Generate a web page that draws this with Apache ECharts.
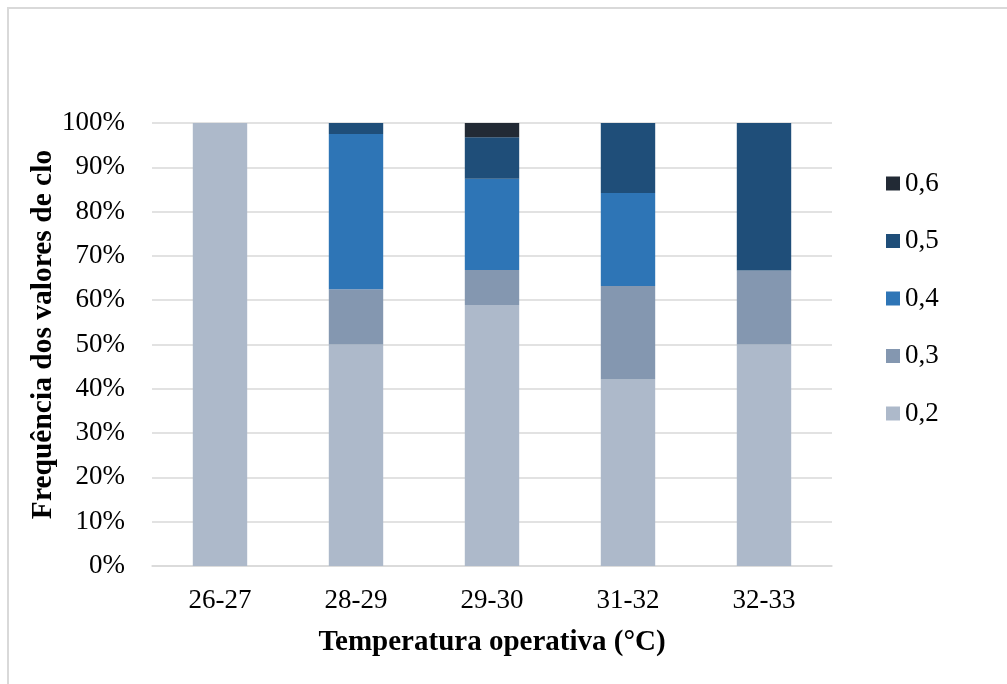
<!DOCTYPE html>
<html>
<head>
<meta charset="utf-8">
<script src="https://cdn.jsdelivr.net/npm/echarts@6/dist/echarts.min.js"></script>
<style>html,body{margin:0;padding:0;background:#fff}#c{width:1007px;height:684px}</style>
</head>
<body>
<div id="c"></div>
<script>
var categories = ['26-27', '28-29', '29-30', '31-32', '32-33'];
var s02 = [100, 50, 58.9, 42.1, 50];
var s03 = [0, 12.5, 7.9, 21.1, 16.7];
var s04 = [0, 35, 20.6, 21.0, 0];
var s05 = [0, 2.5, 9.4, 15.8, 33.3];
var s06 = [0, 0, 3.2, 0, 0];
var seriesNames = ['0,2', '0,3', '0,4', '0,5', '0,6'];
var colors = ['#adb9ca', '#8497b0', '#2e75b6', '#1f4e79', '#222a35'];
var yTicks = [0, 10, 20, 30, 40, 50, 60, 70, 80, 90, 100];

var font = 'Liberation Serif';
var chart = echarts.init(document.getElementById('c'));
var allData = [s02, s03, s04, s05, s06];
var series = allData.map(function (d, i) {
  return {
    name: seriesNames[i], type: 'bar', stack: 'total', data: d,
    barWidth: '40%', itemStyle: { color: colors[i] }
  };
});
chart.setOption({
  animation: false,
  textStyle: { fontFamily: font },
  graphic: [{
    type: 'rect', shape: { x: 8, y: 8, width: 1020, height: 700 },
    style: { fill: 'none', stroke: '#d9d9d9', lineWidth: 2 }, silent: true
  }],
  grid: { left: 152, right: 175, top: 123, bottom: 118 },
  legend: {
    orient: 'vertical', left: 881, top: 165,
    data: seriesNames.slice().reverse(),
    itemWidth: 14, itemHeight: 14, itemGap: 30.5,
    icon: 'rect',
    textStyle: { fontFamily: font, fontSize: 27, color: '#000', lineHeight: 27 }
  },
  xAxis: {
    type: 'category', data: categories,
    name: 'Temperatura operativa (°C)', nameLocation: 'middle', nameGap: 62,
    nameMoveOverlap: false,
    nameTextStyle: { fontFamily: font, fontSize: 29, fontWeight: 'bold', color: '#000' },
    axisLine: { lineStyle: { color: '#d9d9d9', width: 1.5 } },
    axisTick: { show: false },
    axisLabel: { fontFamily: font, fontSize: 27, color: '#000', margin: 21 }
  },
  yAxis: {
    type: 'value', min: 0, max: 100, interval: 10,
    name: 'Frequência dos valores de clo', nameLocation: 'middle', nameGap: 94,
    nameMoveOverlap: false,
    nameTextStyle: { fontFamily: font, fontSize: 29.5, fontWeight: 'bold', color: '#000', padding: [0, 0, 0, 20] },
    axisLine: { show: false }, axisTick: { show: false },
    splitLine: { lineStyle: { color: '#d9d9d9', width: 1.5 } },
    axisLabel: {
      fontFamily: font, fontSize: 27, color: '#000', margin: 27,
      formatter: function (v) { return yTicks.indexOf(v) >= 0 ? v + '%' : ''; }
    }
  },
  series: series
});
</script>
</body>
</html>
